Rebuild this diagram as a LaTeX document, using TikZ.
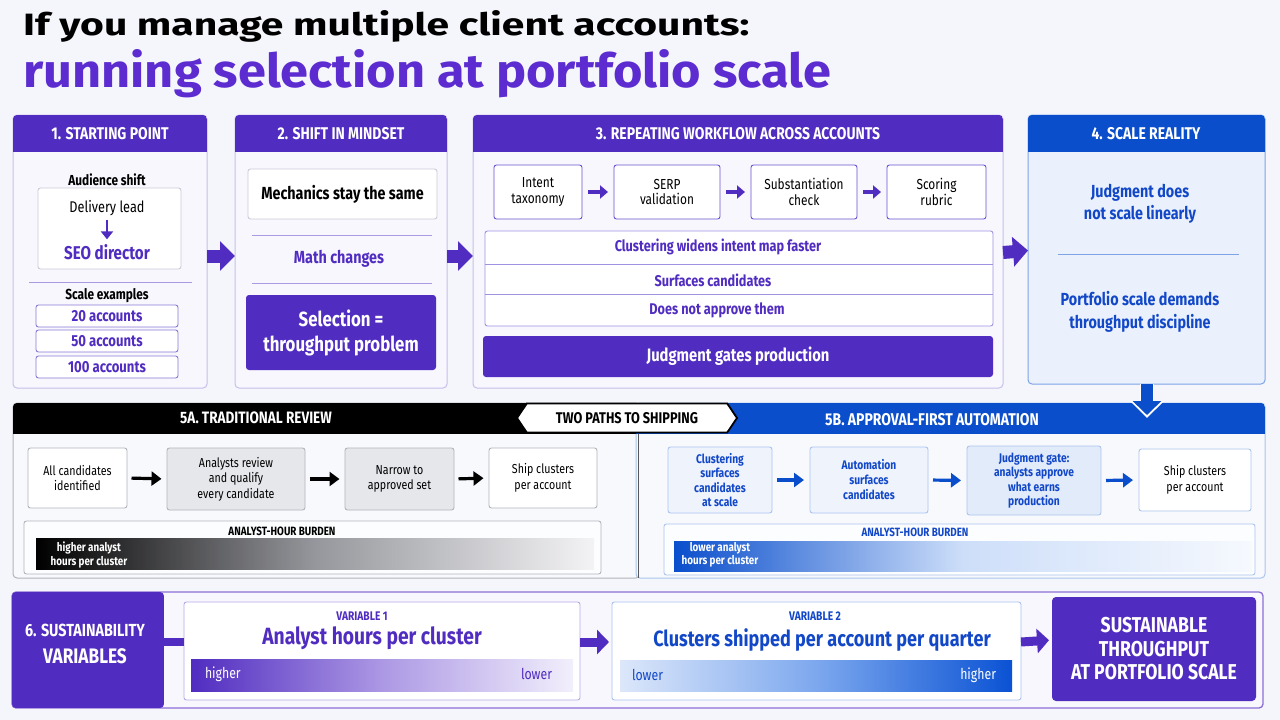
\documentclass[tikz,border=0pt]{standalone}
\usepackage{graphicx}
\usepackage{fontspec}
\setmainfont{Fira Sans}[FakeStretch=0.82]
\usetikzlibrary{arrows.meta,shapes.symbols}
\definecolor{bg}{RGB}{245,246,251}
\definecolor{purp}{RGB}{80,44,192}
\definecolor{tpurp}{RGB}{92,44,208}
\definecolor{lav}{RGB}{198,190,236}
\definecolor{pfill}{RGB}{248,247,254}
\definecolor{lavline}{RGB}{170,155,226}
\definecolor{boxgray}{RGB}{204,202,216}
\definecolor{acctb}{RGB}{139,120,214}
\definecolor{stepb}{RGB}{108,82,206}
\definecolor{rowb}{RGB}{160,145,226}
\definecolor{blu}{RGB}{10,78,204}
\definecolor{blutext}{RGB}{18,72,200}
\definecolor{lblue}{RGB}{234,241,252}
\definecolor{bluebord}{RGB}{126,163,230}
\definecolor{gfill}{RGB}{230,231,235}
\definecolor{gbord}{RGB}{178,180,188}
\definecolor{bfivefill}{RGB}{248,249,252}
\definecolor{bonefill}{RGB}{238,243,252}
\definecolor{bthreefill}{RGB}{226,235,250}
\definecolor{bbord}{RGB}{170,196,238}
\definecolor{vtwobord}{RGB}{169,194,238}
\definecolor{vonebord}{RGB}{183,169,232}
\definecolor{sixbord}{RGB}{140,110,214}
\definecolor{sixfill}{RGB}{248,247,253}
\newcommand\fs[2]{\fontsize{#1}{#2}\selectfont}
\newcommand\bx[7]{\node[#6,minimum width={(#4-#2)*1pt},minimum height={(#5-#3)*1pt}] (#1) at ({(#2+#4)/2},{(#3+#5)/2}) {#7};}
\newcommand\hdr[6]{\begin{scope}\clip[rounded corners=4pt] (#1,#2) rectangle (#3,#5);\fill[#6] (#1,#2) rectangle (#3,#4);\end{scope}}
\begin{document}
\begin{tikzpicture}[x=1pt,y=-1pt,
  panel/.style={draw=lav, fill=pfill, line width=1pt, rounded corners=4pt, inner sep=0pt, outer sep=0pt},
  wbox/.style={draw=#1, fill=white, line width=0.9pt, rounded corners=2.5pt, inner sep=0pt, outer sep=0pt, align=center},
  fbox/.style={draw=none, fill=#1, rounded corners=3pt, inner sep=0pt, outer sep=0pt, align=center},
  txt/.style={inner sep=0pt, outer sep=0pt, align=center},
  hdrtxt/.style={txt, text=white, font=\fs{17}{20}\bfseries},
  bigarr/.style={draw=#1, line width=13pt, -{Triangle[length=15pt,width=29pt]}},
  smarr/.style={draw=purp, line width=3.5pt, -{Triangle[length=8pt,width=13pt]}, shorten <=6pt, shorten >=6pt},
  blkarr/.style={draw=black, line width=3.2pt, -{Triangle[length=10pt,width=14pt]}, shorten <=4.5pt, shorten >=5.5pt},
  bluarr/.style={draw=blu, line width=3.2pt, -{Triangle[length=10pt,width=14pt]}, shorten <=5pt, shorten >=6pt},
  sixarr/.style={draw=purp, line width=9pt, -{Triangle[length=12pt,width=24pt]}, shorten >=3pt},
  sepline/.style={draw=lavline, line width=1pt}
]
\fill[bg] (0,0) rectangle (1280,720);
\useasboundingbox (0,0) rectangle (1280,720);

% ---------- title
\node[anchor=base west, inner sep=0pt] (t1) at (23,36) {\resizebox{726pt}{25pt}{\bfseries If you manage multiple client accounts:}};
\node[anchor=base west, inner sep=0pt, text=tpurp] (t2) at (23,87) {\resizebox{808pt}{38pt}{\bfseries running selection at portfolio scale}};

% ---------- panel 1
\bx{p1}{13}{115}{207}{388}{panel}{}
\hdr{13}{115}{207}{152}{388}{purp}
\node[hdrtxt] (h1) at (110,134) {1. STARTING POINT};
\node[txt, font=\fs{14.5}{17}\bfseries] (aud) at (107,180) {Audience shift};
\bx{dlbox}{38}{188}{181}{269}{wbox=boxgray}{}
\node[txt, font=\fs{15.5}{18}] (dl) at (107,208) {Delivery lead};
\node[txt, font=\fs{18.5}{22}\bfseries, text=purp] (seo) at (107,252) {SEO director};
\draw[draw=purp, line width=2.6pt, -{Triangle[length=8pt,width=12pt]}] (dl.south) ++(0,4) -- ([yshift=5pt]seo.north);
\draw[sepline] (29,282) -- (192,282);
\node[txt, font=\fs{14.5}{17}\bfseries] (scl) at (107,296) {Scale examples};
\bx{a20}{36}{305}{178}{327}{wbox=acctb, font=\fs{16}{19}\bfseries, text=purp}{20 accounts}
\bx{a50}{36}{330}{178}{352}{wbox=acctb, font=\fs{16}{19}\bfseries, text=purp}{50 accounts}
\bx{a100}{36}{356}{178}{378}{wbox=acctb, font=\fs{16}{19}\bfseries, text=purp}{100 accounts}

% ---------- panel 2
\bx{p2}{235}{115}{447}{388}{panel}{}
\hdr{235}{115}{447}{152}{388}{purp}
\node[hdrtxt] (h2) at (341,134) {2. SHIFT IN MINDSET};
\bx{mech}{248}{169}{437}{219}{wbox=boxgray, font=\fs{17.5}{21}\bfseries}{Mechanics stay the same}
\draw[sepline] (252,235) -- (432,235);
\node[txt, font=\fs{17.5}{21}\bfseries, text=purp] (math) at (339,259) {Math changes};
\draw[sepline] (252,283) -- (432,283);
\bx{sel}{246}{295}{436}{370}{fbox=purp, text=white, font=\fs{20.5}{25}\bfseries}{Selection =\\throughput problem}

\draw[bigarr=purp] ([yshift=-4.5pt]p1.east) -- ([yshift=-4.5pt]p2.west);

% ---------- panel 3
\bx{p3}{473}{115}{1003}{388}{panel}{}
\hdr{473}{115}{1003}{152}{388}{purp}
\node[hdrtxt] (h3) at (738,134) {3. REPEATING WORKFLOW ACROSS ACCOUNTS};
\bx{s1}{494}{165}{582}{219}{wbox=stepb, font=\fs{14.5}{15.5}}{Intent\\taxonomy}
\bx{s2}{614}{165}{720}{219}{wbox=stepb, font=\fs{14.5}{15.5}}{SERP\\validation}
\bx{s3}{751}{165}{857}{219}{wbox=stepb, font=\fs{14.5}{15.5}}{Substantiation\\check}
\bx{s4}{887}{165}{986}{219}{wbox=stepb, font=\fs{14.5}{15.5}}{Scoring\\rubric}
\draw[smarr] (s1.east) -- (s2.west);
\draw[smarr] (s2.east) -- (s3.west);
\draw[smarr] (s3.east) -- (s4.west);
\bx{rows}{485}{231}{993}{326}{wbox=rowb}{}
\draw[draw=rowb, line width=0.9pt] (485,264) -- (993,264);
\draw[draw=rowb, line width=0.9pt] (485,294) -- (993,294);
\node[txt, font=\fs{15.5}{18}\bfseries, text=purp] (r1) at (718,247) {Clustering widens intent map faster};
\node[txt, font=\fs{15.5}{18}\bfseries, text=purp] (r2) at (713,280) {Surfaces candidates};
\node[txt, font=\fs{15.5}{18}\bfseries, text=purp] (r3) at (717,310) {Does not approve them};
\bx{jg}{483}{336}{993}{377}{fbox=purp, text=white, font=\fs{18}{21}\bfseries}{Judgment gates production}

\draw[bigarr=purp] ([yshift=-4.5pt]p2.east) -- ([yshift=-4.5pt]p3.west);

% ---------- panel 4
\bx{p4}{1028}{115}{1265}{384}{panel, draw=bluebord, fill=lblue}{}
\hdr{1028}{115}{1265}{152}{384}{blu}
\node[hdrtxt] (h4) at (1146,134) {4. SCALE REALITY};
\node[txt, font=\fs{17.5}{21.5}\bfseries, text=blutext] (jd) at (1140,204) {Judgment does\\not scale linearly};
\draw[draw=bluebord, line width=1pt] (1058,254) -- (1239,254);
\node[txt, font=\fs{17.5}{23}\bfseries, text=blutext] (ps) at (1140,312) {Portfolio scale demands\\throughput discipline};

\draw[bigarr=purp] ([yshift=-1pt]p3.east) -- ([yshift=-1pt]p4.west);

% ---------- section 5
\bx{p5a}{13}{403}{640}{578}{panel, draw=gbord, fill=bfivefill}{}
\bx{p5b}{636}{403}{1265}{578}{panel, draw=bbord, fill=bfivefill}{}
\hdr{13}{403}{640}{434}{578}{black}
\hdr{636}{403}{1265}{434}{578}{blu}
\draw[draw=black!65, line width=1pt] (638,434) -- (638,578);
\node[signal, signal to=west and east, signal pointer angle=112, draw=black, line width=1.8pt, fill=white, minimum width=220pt, minimum height=29pt, inner sep=0pt, font=\fs{15.5}{18}\bfseries] (twop) at (627,418) {TWO PATHS TO SHIPPING};
\node[hdrtxt, font=\fs{16.5}{20}\bfseries] (h5a) at (256,418) {5A. TRADITIONAL REVIEW};
\node[hdrtxt, font=\fs{17}{20}\bfseries] (h5b) at (932,420) {5B. APPROVAL-FIRST AUTOMATION};

% down arrow from panel 4
\coordinate (dn) at (1147,415);
\coordinate (dnw) at (1147,418);
\draw[draw=white, line width=14pt, -{Triangle[length=17pt,width=33pt]}] ([xshift=0.5pt]p4.south) -- (dnw);
\draw[draw=blu, line width=12pt, -{Triangle[length=14pt,width=28pt]}] ([xshift=0.5pt]p4.south) -- (dn);

% 5A
\bx{a1}{28}{448}{127}{508}{wbox=gbord, font=\fs{13}{15.5}}{All candidates\\identified}
\bx{a2}{167}{448}{305}{510}{wbox=gbord, fill=gfill, font=\fs{13}{15.5}}{Analysts review\\and qualify\\every candidate}
\bx{a3}{345}{448}{454}{510}{wbox=gbord, fill=gfill, font=\fs{13}{15.5}}{Narrow to\\approved set}
\bx{a4}{489}{448}{597}{508}{wbox=gbord, font=\fs{13}{15.5}}{Ship clusters\\per account}
\draw[blkarr] (a1.east) -- (a2.west);
\draw[blkarr] (a2.east) -- (a3.west);
\draw[blkarr] (a3.east) -- (a4.west);
\bx{bA}{24}{521}{601}{574}{wbox=gbord, fill=white!60!bfivefill}{}
\node[txt, font=\fs{12}{14}\bfseries] (bAt) at (282,531) {ANALYST-HOUR BURDEN};
\shade[left color=black, right color={rgb,255:red,243;green,243;blue,245}, middle color={rgb,255:red,150;green,151;blue,156}] (36,538) rectangle (594,569);
\node[txt, font=\fs{12}{13.5}\bfseries, text=white] (bAl) at (89,555) {higher analyst\\hours per cluster};

% 5B
\bx{b1}{668}{447}{772}{513}{wbox=bbord, fill=bonefill, text=blutext, font=\fs{12.5}{14.5}\bfseries}{Clustering\\surfaces\\candidates\\at scale}
\bx{b2}{810}{447}{928}{513}{wbox=bbord, fill=bonefill, text=blutext, font=\fs{12.5}{15}\bfseries}{Automation\\surfaces\\candidates}
\bx{b3}{967}{446}{1101}{515}{wbox=bbord, fill=bthreefill, text=blutext, font=\fs{12.5}{14.5}\bfseries}{Judgment gate:\\analysts approve\\what earns\\production}
\bx{b4}{1139}{449}{1251}{511}{wbox=bbord, font=\fs{13}{16}}{Ship clusters\\per account}
\draw[bluarr] (b1.east) -- (b2.west);
\draw[bluarr] (b2.east) -- (b3.west);
\draw[bluarr] (b3.east) -- (b4.west);
\bx{bB}{664}{524}{1255}{575}{wbox=bbord, fill=white!60!bfivefill}{}
\node[txt, font=\fs{12}{14}\bfseries, text=blutext] (bBt) at (915,532) {ANALYST-HOUR BURDEN};
\shade[left color=blu, right color={rgb,255:red,246;green,249;blue,254}, middle color={rgb,255:red,205;green,222;blue,249}] (674,541) rectangle (1252,571);
\node[txt, font=\fs{12}{13.5}\bfseries, text=white] (bBl) at (720,555) {lower analyst\\hours per cluster};

% ---------- section 6
\bx{s6}{12}{592}{1263}{708}{panel, draw=sixbord, fill=sixfill, line width=1.3pt}{}
\hdr{12}{592}{164}{708}{708}{purp}
\node[txt, font=\fs{17.5}{20}\bfseries, text=white] (s6a) at (85,630) {6. SUSTAINABILITY};
\node[txt, font=\fs{21}{24}\bfseries, text=white] (s6b) at (85,656) {VARIABLES};
\coordinate (s6e) at (164,642);
\bx{v1}{184}{602}{580}{700}{wbox=vonebord}{}
\draw[draw=purp, line width=8pt] (s6e) -- (s6e -| v1.west);
\node[txt, font=\fs{12.5}{14}\bfseries, text=purp] (v1a) at (362,616) {VARIABLE 1};
\node[txt, font=\fs{23.5}{27}\bfseries, text=purp] (v1b) at (372,638) {Analyst hours per cluster};
\shade[left color=purp, right color={rgb,255:red,242;green,239;blue,252}, middle color={rgb,255:red,172;green,152;blue,228}] (191,659) rectangle (573,691);
\node[txt, anchor=west, font=\fs{15}{17}, text=white] (v1h) at (205,674) {higher};
\node[txt, anchor=east, font=\fs{15}{17}, text=purp] (v1l) at (552,674) {lower};
\bx{v2}{612}{602}{1021}{700}{wbox=vtwobord}{}
\node[txt, font=\fs{12.5}{14}\bfseries, text=blutext] (v2a) at (815,616) {VARIABLE 2};
\node[txt, font=\fs{22}{26}\bfseries, text=blutext] (v2b) at (822,640) {Clusters shipped per account per quarter};
\shade[left color={rgb,255:red,220;green,231;blue,250}, right color={rgb,255:red,10;green,82;blue,212}, middle color={rgb,255:red,125;green,168;blue,238}] (620,660) rectangle (1012,691);
\node[txt, anchor=west, font=\fs{15}{17}, text=blutext] (v2l) at (632,675) {lower};
\node[txt, anchor=east, font=\fs{15}{17}, text=white] (v2h) at (996,675) {higher};
\bx{fin}{1052}{597}{1256}{701}{fbox=purp, rounded corners=4pt, text=white, font=\fs{21.5}{23.5}\bfseries}{SUSTAINABLE\\THROUGHPUT\\AT PORTFOLIO SCALE}
\draw[sixarr] ([yshift=9pt]v1.east) -- ([yshift=9pt]v2.west);
\draw[sixarr] ([yshift=9pt]v2.east) -- ([yshift=9pt]fin.west);
\end{tikzpicture}
\end{document}
